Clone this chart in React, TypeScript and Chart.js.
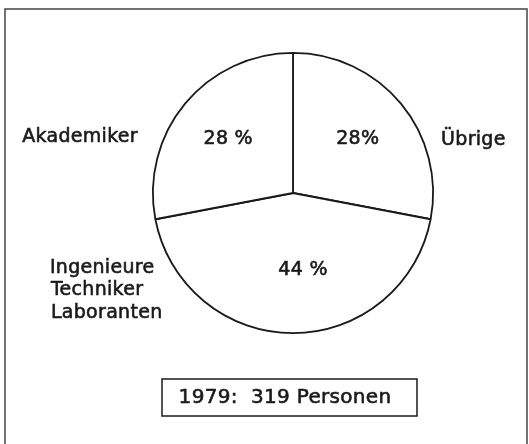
import React, { useEffect, useRef } from "react";
import { Chart, registerables } from "chart.js";

Chart.register(...registerables);

const categories = ["Übrige", "Ingenieure\nTechniker\nLaboranten", "Akademiker"];
const shares = [28, 44, 28];
const shareLabels = ["28%", "44 %", "28 %"];
const caption = "1979:  319 Personen";

const FONT = "'DejaVu Sans', sans-serif";
const INK = "#1a1a1a";

function boldText(ctx: any, t: string, x: number, y: number) {
  ctx.fillText(t, x, y);
  ctx.strokeText(t, x, y);
}

const overlayPlugin = {
  id: "overlay",
  beforeDraw(chart: any) {
    const ctx = chart.ctx;
    ctx.save();
    ctx.fillStyle = "#ffffff";
    ctx.fillRect(0, 0, chart.width, chart.height);
    ctx.strokeStyle = "#444";
    ctx.lineWidth = 1.5;
    ctx.strokeRect(5, 9, chart.width - 7, chart.height + 20);
    ctx.restore();
  },
  afterDraw(chart: any) {
    const ctx = chart.ctx;
    const meta = chart.getDatasetMeta(0);
    const arcs = meta.data;
    const cx = arcs[0].x;
    const cy = arcs[0].y;
    const r = arcs[0].outerRadius;
    ctx.save();
    ctx.fillStyle = INK;
    ctx.strokeStyle = INK;
    ctx.lineWidth = 0.6;
    ctx.font = `19px ${FONT}`;
    (ctx as any).letterSpacing = "0.3px";
    ctx.textBaseline = "middle";
    // percentage labels inside slices
    arcs.forEach((a: any, i: number) => {
      const mid = (a.startAngle + a.endAngle) / 2;
      const f = i === 1 ? 0.55 : 0.6;
      const x = cx + Math.cos(mid) * r * f + (i === 1 ? 10 : 0);
      const y = cy + Math.sin(mid) * r * f;
      ctx.textAlign = "center";
      boldText(ctx, shareLabels[i], x, y);
    });
    // outer category labels
    ctx.textAlign = "left";
    boldText(ctx, categories[0], cx + r + 8, cy - 53);
    ctx.textAlign = "right";
    boldText(ctx, categories[2], cx - r - 15, cy - 56);
    ctx.textAlign = "left";
    const lines = categories[1].split("\n");
    lines.forEach((ln, k) => {
      boldText(ctx, ln, cx - r - 102 + (k === 0 ? -1 : 0), cy + 75 + k * 22.5);
    });
    // caption box
    ctx.lineWidth = 1.5;
    ctx.strokeRect(162, 379, 255, 37);
    ctx.lineWidth = 0.6;
    ctx.textAlign = "center";
    ctx.font = `20px ${FONT}`;
    boldText(ctx, caption, 285, 398);
    ctx.restore();
  },
};

export default function App() {
  const ref = useRef<HTMLCanvasElement>(null);
  useEffect(() => {
    const chart = new Chart(ref.current!, {
      type: "pie",
      data: {
        labels: categories,
        datasets: [
          {
            data: shares,
            backgroundColor: "#ffffff",
            borderColor: "#1a1a1a",
            borderWidth: 1.8,
          },
        ],
      },
      options: {
        animation: false,
        responsive: false,
        layout: { padding: { left: 152, right: 95, top: 52, bottom: 110 } },
        plugins: {
          legend: { display: false },
          tooltip: { enabled: false },
        },
      },
      plugins: [overlayPlugin],
    });
    return () => chart.destroy();
  }, []);
  return (
    <div style={{ position: "absolute", left: 0, top: 0, width: 529, height: 444 }}>
      <canvas ref={ref} width={529} height={444} />
    </div>
  );
}
